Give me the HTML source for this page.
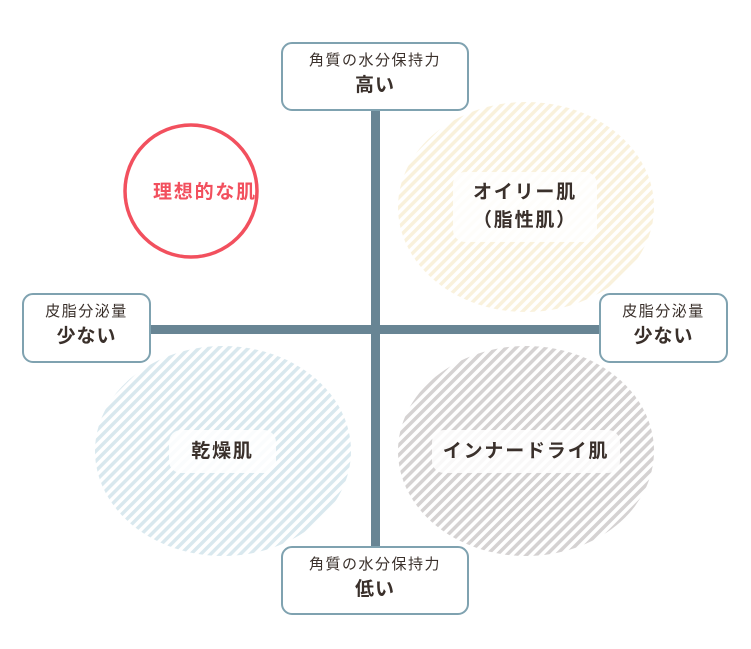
<!DOCTYPE html>
<html><head><meta charset="utf-8">
<style>
html,body{margin:0;padding:0;background:#fff;}
body{width:751px;height:649px;overflow:hidden;position:relative;font-family:"Liberation Sans","Noto Sans CJK JP",sans-serif;color:#3a302b;}
.box{position:absolute;background:#fff;border:2px solid #7fa2b0;border-radius:11px;box-sizing:border-box;text-align:center;}
.box .s{font-size:15px;margin-top:7px;line-height:20px;letter-spacing:1.5px;}
.box .b{font-size:19px;font-weight:bold;line-height:26px;margin-top:2px;letter-spacing:1px;}
.lab{position:absolute;background:rgba(255,255,255,0.85);border-radius:12px;display:flex;align-items:center;justify-content:center;text-align:center;font-weight:bold;font-size:19px;line-height:28px;letter-spacing:1.8px;}
</style></head><body>
<svg width="751" height="649" style="position:absolute;left:0;top:0">
<defs>
<pattern id="py" width="7" height="7" patternUnits="userSpaceOnUse" patternTransform="rotate(45)"><rect width="3.5" height="7" fill="#f9f1dc"/></pattern>
<pattern id="pb" width="7" height="7" patternUnits="userSpaceOnUse" patternTransform="rotate(45)"><rect width="3.5" height="7" fill="#d9e8ee"/></pattern>
<pattern id="pg" width="7" height="7" patternUnits="userSpaceOnUse" patternTransform="rotate(45)"><rect width="3.5" height="7" fill="#d5d2d2"/></pattern>
</defs>
<ellipse cx="526" cy="207" rx="128" ry="105" fill="url(#py)"/>
<ellipse cx="223" cy="451" rx="128" ry="105" fill="url(#pb)"/>
<ellipse cx="526" cy="451" rx="128" ry="105" fill="url(#pg)"/>
<rect x="371" y="105" width="9" height="445" fill="#688594"/>
<rect x="148" y="325" width="455" height="9" fill="#688594"/>
<ellipse cx="191" cy="191" rx="66" ry="66" fill="none" stroke="#f2505e" stroke-width="3.5"/>
<text x="205" y="198" text-anchor="middle" font-size="19" font-weight="bold" letter-spacing="1.8" fill="#f2505e" font-family="Liberation Sans, Noto Sans CJK JP, sans-serif">理想的な肌</text>
</svg>
<div class="lab" style="left:453px;top:172px;width:144px;height:70px;">オイリー肌<br>（脂性肌）</div>
<div class="lab" style="left:169px;top:430px;width:107px;height:43px;">乾燥肌</div>
<div class="lab" style="left:432px;top:430px;width:188px;height:43px;">インナードライ肌</div>
<div class="box" style="left:281px;top:42px;width:188px;height:69px;"><div class="s">角質の水分保持力</div><div class="b">高い</div></div>
<div class="box" style="left:281px;top:546px;width:188px;height:69px;"><div class="s">角質の水分保持力</div><div class="b">低い</div></div>
<div class="box" style="left:22px;top:293px;width:129px;height:70px;"><div class="s">皮脂分泌量</div><div class="b">少ない</div></div>
<div class="box" style="left:599px;top:293px;width:129px;height:70px;"><div class="s">皮脂分泌量</div><div class="b">少ない</div></div>
</body></html>
